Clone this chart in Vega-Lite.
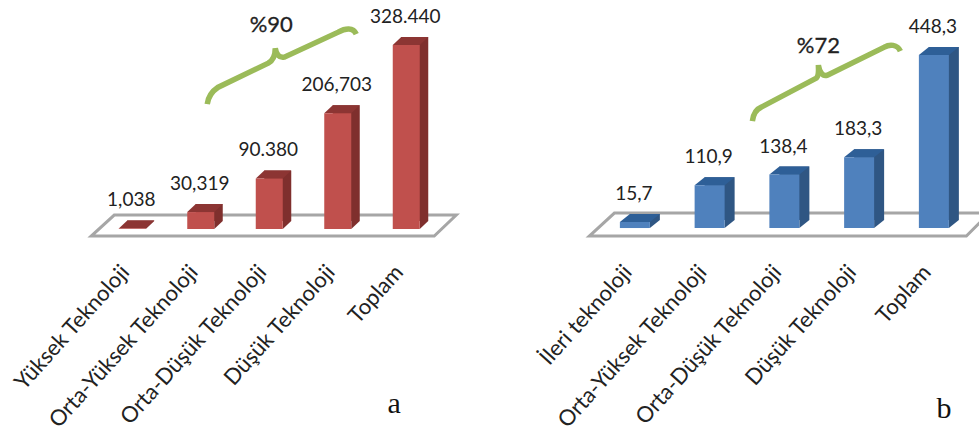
{
  "$schema": "https://vega.github.io/schema/vega-lite/v6.json",
  "background": "white",
  "padding": {"left": 9, "top": 0, "right": 0, "bottom": 0},
  "spacing": 71.5,
  "config": {
    "view": {"stroke": null},
    "axis": {"domain": false, "ticks": false, "grid": false, "title": null},
    "text": {"font": "Lato", "color": "#222222"}
  },
  "hconcat": [
    {
      "width": 342.5,
      "height": 240,
      "data": {"values": [
        {"grup": "Yüksek Teknoloji", "deger": 1.038, "etiket": "1,038"},
        {"grup": "Orta-Yüksek Teknoloji", "deger": 30.319, "etiket": "30,319"},
        {"grup": "Orta-Düşük Teknoloji", "deger": 90.38, "etiket": "90.380"},
        {"grup": "Düşük Teknoloji", "deger": 206.703, "etiket": "206,703"},
        {"grup": "Toplam", "deger": 328.44, "etiket": "328.440"}
      ]},
      "encoding": {
        "x": {
          "field": "grup", "type": "nominal", "sort": null,
          "scale": {"domain": ["Yüksek Teknoloji", "Orta-Yüksek Teknoloji", "Orta-Düşük Teknoloji", "Düşük Teknoloji", "Toplam"], "paddingInner": 0, "paddingOuter": 0},
          "axis": {"labelAngle": -48, "labelAlign": "right", "labelBaseline": "middle", "labelFont": "Lato", "labelFontSize": 22, "labelColor": "#222222", "labelPadding": 28, "labelOffset": -7, "labelLimit": 400, "labelOverlap": false}
        },
        "y": {"field": "deger", "type": "quantitative", "scale": {"domain": [-19.6, 409], "nice": false, "zero": false}, "axis": null}
      },
      "layer": [
        {
          "transform": [{"filter": {"field": "grup", "equal": "Toplam"}}],
          "mark": {"type": "point", "shape": "M-178,7L165,7L187,-14L-155,-14Z", "size": 4, "filled": true, "fill": "white", "stroke": "#a6a6a6", "strokeWidth": 3, "opacity": 1},
          "encoding": {"x": {"datum": "Orta-Düşük Teknoloji"}, "y": {"datum": 0}}
        },
        {"mark": {"type": "bar", "width": 27, "color": "#7f2f2d", "xOffset": 8.5, "x2Offset": 8.5, "yOffset": -8, "y2Offset": -8}},
        {
          "mark": {"type": "point", "shape": "M13.5,0L22,-8L13.5,-8Z", "size": 4, "filled": true, "fill": "#7f2f2d", "strokeWidth": 0, "opacity": 1},
          "encoding": {"y": {"datum": 0}}
        },
        {"mark": {"type": "point", "shape": "M-13.5,0L13.5,0L22,-8L-5,-8Z", "size": 4, "filled": true, "fill": "#8c3533", "strokeWidth": 0, "opacity": 1}},
        {"mark": {"type": "bar", "width": 27, "color": "#c0504d"}},
        {
          "mark": {"type": "text", "fontSize": 19, "baseline": "alphabetic", "dy": -22, "dx": -1},
          "encoding": {"text": {"field": "etiket"}}
        },
        {
          "transform": [{"filter": {"field": "grup", "equal": "Toplam"}}],
          "mark": {"type": "point", "shape": "M-62,56C-61,48,-57,43,-51,39L-1,15C4,12,6,6,6,0C7,6,10,10,15,9L69,-16C76,-20,84,-21,87,-14", "size": 4, "filled": false, "stroke": "#9bbb59", "strokeWidth": 5.5, "opacity": 1},
          "encoding": {"x": {"datum": "Orta-Düşük Teknoloji"}, "y": {"datum": 323}}
        },
        {
          "transform": [{"filter": {"field": "grup", "equal": "Toplam"}}],
          "mark": {"type": "text", "fontSize": 22, "baseline": "alphabetic", "dx": 2, "stroke": "#222222", "strokeWidth": 0.3},
          "encoding": {"x": {"datum": "Orta-Düşük Teknoloji"}, "y": {"datum": 352}, "text": {"value": "%90"}}
        },
        {
          "transform": [{"filter": {"field": "grup", "equal": "Toplam"}}],
          "mark": {"type": "text", "font": "Liberation Serif", "fontSize": 30, "baseline": "alphabetic", "dx": -12, "color": "#111111"},
          "encoding": {"x": {"datum": "Toplam"}, "y": {"datum": -328}, "text": {"value": "a"}}
        }
      ]
    },
    {
      "width": 373.75,
      "height": 240,
      "data": {"values": [
        {"grup": "İleri teknoloji", "deger": 15.7, "etiket": "15,7"},
        {"grup": "Orta-Yüksek Teknoloji", "deger": 110.9, "etiket": "110,9"},
        {"grup": "Orta-Düşük Teknoloji", "deger": 138.4, "etiket": "138,4"},
        {"grup": "Düşük Teknoloji", "deger": 183.3, "etiket": "183,3"},
        {"grup": "Toplam", "deger": 448.3, "etiket": "448,3"}
      ]},
      "encoding": {
        "x": {
          "field": "grup", "type": "nominal", "sort": null,
          "scale": {"domain": ["İleri teknoloji", "Orta-Yüksek Teknoloji", "Orta-Düşük Teknoloji", "Düşük Teknoloji", "Toplam"], "paddingInner": 0, "paddingOuter": 0},
          "axis": {"labelAngle": -48, "labelAlign": "right", "labelBaseline": "middle", "labelFont": "Lato", "labelFontSize": 22, "labelColor": "#222222", "labelPadding": 28, "labelOffset": -7, "labelLimit": 400, "labelOverlap": false}
        },
        "y": {"field": "deger", "type": "quantitative", "scale": {"domain": [-31, 590.7], "nice": false, "zero": false}, "axis": null}
      },
      "layer": [
        {
          "transform": [{"filter": {"field": "grup", "equal": "Toplam"}}],
          "mark": {"type": "point", "shape": "M-195,8L182,8L205,-15L-170,-15Z", "size": 4, "filled": true, "fill": "white", "stroke": "#a6a6a6", "strokeWidth": 3, "opacity": 1},
          "encoding": {"x": {"datum": "Orta-Düşük Teknoloji"}, "y": {"datum": 0}}
        },
        {"mark": {"type": "bar", "width": 30, "color": "#2f5683", "xOffset": 10, "x2Offset": 10, "yOffset": -8, "y2Offset": -8}},
        {
          "mark": {"type": "point", "shape": "M15,0L25,-8L15,-8Z", "size": 4, "filled": true, "fill": "#2f5683", "strokeWidth": 0, "opacity": 1},
          "encoding": {"y": {"datum": 0}}
        },
        {"mark": {"type": "point", "shape": "M-15,0L15,0L25,-8L-5,-8Z", "size": 4, "filled": true, "fill": "#2e5f97", "strokeWidth": 0, "opacity": 1}},
        {"mark": {"type": "bar", "width": 30, "color": "#4f81bd"}},
        {
          "mark": {"type": "text", "fontSize": 19, "baseline": "alphabetic", "dy": -22, "dx": -1},
          "encoding": {"text": {"field": "etiket"}}
        },
        {
          "transform": [{"filter": {"field": "grup", "equal": "Toplam"}}],
          "mark": {"type": "point", "shape": "M-32,56C-31,48,-28,44,-23,42L32,13C35,10,34,5,34,0C35,6,38,12,43,10L100,-18C105,-21,113,-21,116,-14", "size": 4, "filled": false, "stroke": "#9bbb59", "strokeWidth": 5.5, "opacity": 1},
          "encoding": {"x": {"datum": "Orta-Düşük Teknoloji"}, "y": {"datum": 422}}
        },
        {
          "transform": [{"filter": {"field": "grup", "equal": "Toplam"}}],
          "mark": {"type": "text", "fontSize": 22, "baseline": "alphabetic", "dx": 34, "stroke": "#222222", "strokeWidth": 0.3},
          "encoding": {"x": {"datum": "Orta-Düşük Teknoloji"}, "y": {"datum": 453}, "text": {"value": "%72"}}
        },
        {
          "transform": [{"filter": {"field": "grup", "equal": "Toplam"}}],
          "mark": {"type": "text", "font": "Liberation Serif", "fontSize": 30, "baseline": "alphabetic", "dx": 10, "color": "#111111"},
          "encoding": {"x": {"datum": "Toplam"}, "y": {"datum": -492}, "text": {"value": "b"}}
        }
      ]
    }
  ]
}
